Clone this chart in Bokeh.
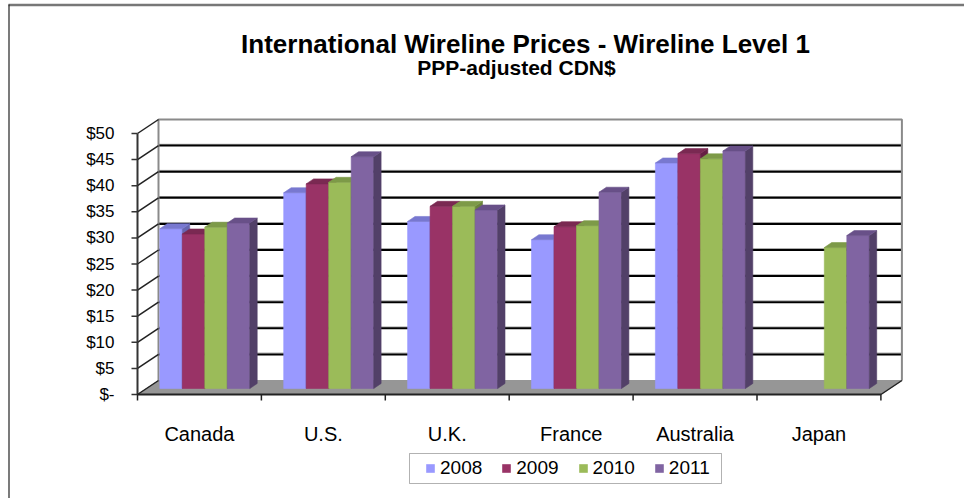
from bokeh.plotting import figure
from bokeh.models import (Range1d, Label, Legend, LegendItem,
                          PolyAnnotation, ColumnDataSource)
from bokeh.core.properties import value
from bokeh.embed import file_html
from bokeh.resources import INLINE

# ---------------- data ----------------
categories = ["Canada", "U.S.", "U.K.", "France", "Australia", "Japan"]
years = ["2008", "2009", "2010", "2011"]
v2008 = [30.6, 37.5, 32.0, 28.5, 43.2, None]
v2009 = [29.6, 39.2, 34.9, 31.0, 45.0, None]
v2010 = [30.9, 39.5, 34.9, 31.2, 44.0, 27.0]
v2011 = [31.7, 44.4, 34.2, 37.6, 45.5, 29.3]
y_ticks = [0, 5, 10, 15, 20, 25, 30, 35, 40, 45, 50]
y_labels = ["$-", "$5", "$10", "$15", "$20", "$25", "$30", "$35", "$40", "$45", "$50"]
title_text = "International Wireline Prices - Wireline Level 1"
subtitle_text = "PPP-adjusted CDN$"

front_colors = ["#9999FF", "#993366", "#9BBB59", "#8064A2"]
side_colors = ["#6666B0", "#661F44", "#6A823B", "#524068"]
top_colors = ["#7878D0", "#7A2952", "#7D9A48", "#685088"]

FONT = "Liberation Sans"

# ---------------- layout (pixels) ----------------
W, H = 964, 498
ORIG_X, ORIG_Y = 137, 394   # pixel position of (category 0 start, $0) on the front plane
CAT_PX = 123.9              # pixels per category
USD_PX = 5.22               # pixels per dollar
PX = 1.0 / CAT_PX
PY = 1.0 / USD_PX

def dx(px):
    return (px - ORIG_X) * PX

def dy(py):
    return (ORIG_Y - py) * PY

ncat = len(categories)
WALL_DX, WALL_DY = 21 * PX, 14 * PY
BAR_X0 = 22.3 * PX
BAR_W = 22.5 * PX
BAR_Y0 = 6 * PY
BAR_DX, BAR_DY = 7.4 * PX, 5 * PY

p = figure(width=W, height=H, output_backend="svg", toolbar_location=None,
           x_range=Range1d(dx(0), dx(W)), y_range=Range1d(dy(H), dy(0)),
           min_border=0, x_axis_location=None, y_axis_location=None, title=None)
p.outline_line_color = None
p.xgrid.visible = False
p.ygrid.visible = False
p.background_fill_color = "white"
p.border_fill_color = "white"

# outer frame lines (top gray, left dark)
p.line([dx(8), dx(W)], [dy(4.5), dy(4.5)], line_color="#777777", line_width=2.5)
p.line([dx(8.5), dx(8.5)], [dy(4), dy(H)], line_color="#222222", line_width=1.2)

top = y_ticks[-1]
# floor
p.patch([0, ncat, ncat + WALL_DX, WALL_DX], [0, 0, WALL_DY, WALL_DY],
        fill_color="#969696", line_color="#969696", line_width=1)
# back wall gridlines
for v in y_ticks[1:-1]:
    p.line([WALL_DX, ncat + WALL_DX], [v + WALL_DY + 1.3 * PY, v + WALL_DY + 1.3 * PY],
           line_color="#9a9a9a", line_width=1)
    p.line([WALL_DX, ncat + WALL_DX], [v + WALL_DY, v + WALL_DY],
           line_color="black", line_width=2)
# back wall border
p.line([WALL_DX, WALL_DX, ncat + WALL_DX, ncat + WALL_DX],
       [WALL_DY, top + WALL_DY, top + WALL_DY, WALL_DY],
       line_color="#8a8a8a", line_width=2)
# left wall diagonals
for v in y_ticks:
    p.line([0, WALL_DX], [v, v + WALL_DY], line_color="#222222", line_width=1.5)
# floor right edge
p.line([ncat, ncat + WALL_DX], [0, WALL_DY], line_color="#222222", line_width=1.5)

# bars (painter's order, left to right)
series = [v2008, v2009, v2010, v2011]
xs, ys, cols = [], [], []
first_index = {}
for i in range(ncat):
    for j, vals in enumerate(series):
        v = vals[i]
        if v is None:
            continue
        xl = i + BAR_X0 + j * BAR_W
        xr = xl + BAR_W
        y0 = BAR_Y0
        y1 = BAR_Y0 + v
        if j not in first_index:
            first_index[j] = len(xs)
        xs.append([xl, xr, xr, xl]); ys.append([y0, y0, y1, y1]); cols.append(front_colors[j])
        xs.append([xr, xr + BAR_DX, xr + BAR_DX, xr])
        ys.append([y0, y0 + BAR_DY, y1 + BAR_DY, y1]); cols.append(side_colors[j])
        xs.append([xl, xr, xr + BAR_DX, xl + BAR_DX])
        ys.append([y1, y1, y1 + BAR_DY, y1 + BAR_DY]); cols.append(top_colors[j])

src = ColumnDataSource(dict(xs=xs, ys=ys, c=cols))
bars = p.patches("xs", "ys", source=src, fill_color="c", line_color="c", line_width=0.6)

# front axes lines and ticks
p.line([0, 0], [0, top], line_color="#333333", line_width=2)
p.segment(x0=[-6 * PX] * len(y_ticks), y0=y_ticks, x1=[0] * len(y_ticks), y1=y_ticks,
          line_color="#333333", line_width=1.5)
p.line([0, ncat], [0, 0], line_color="#222222", line_width=2)
bounds = list(range(ncat + 1))
p.segment(x0=bounds, y0=[0] * len(bounds), x1=bounds, y1=[-6 * PY] * len(bounds),
          line_color="#222222", line_width=1.5)

# tick labels
p.text(x=[dx(114)] * len(y_ticks), y=y_ticks, text=y_labels, text_align="right",
       text_baseline="middle", text_font=value(FONT), text_font_size="17px",
       text_color="black")
centers = [i + 0.5 for i in range(ncat)]
p.text(x=centers, y=[dy(433)] * ncat, text=categories, text_align="center",
       text_baseline="alphabetic", text_font=value(FONT), text_font_size="20px",
       text_color="black")

# titles
p.add_layout(Label(x=dx(525), y=dy(43), text=title_text, text_align="center",
                   text_baseline="alphabetic", text_font=FONT, text_font_style="bold",
                   text_font_size="26px", text_color="black"))
p.add_layout(Label(x=dx(516), y=dy(67), text=subtitle_text, text_align="center",
                   text_baseline="alphabetic", text_font=FONT, text_font_style="bold",
                   text_font_size="21px", text_color="black"))

# legend box
p.add_layout(PolyAnnotation(xs=[dx(409), dx(721), dx(721), dx(409)],
                            ys=[dy(453), dy(453), dy(483), dy(483)],
                            fill_color="white", fill_alpha=1, line_color="black",
                            line_width=1))

items = [LegendItem(label=y, renderers=[bars], index=first_index[j]) for j, y in enumerate(years)]
legend = Legend(items=items, orientation="horizontal", location=(425, H - 479),
                border_line_color=None, background_fill_alpha=0, padding=0, margin=0,
                spacing=19, label_standoff=5, glyph_width=10, glyph_height=10,
                label_height=20, label_text_font=FONT, label_text_font_size="19px",
                label_text_color="black")
p.add_layout(legend, "center")

open("out.html", "w").write(file_html(p, INLINE))
